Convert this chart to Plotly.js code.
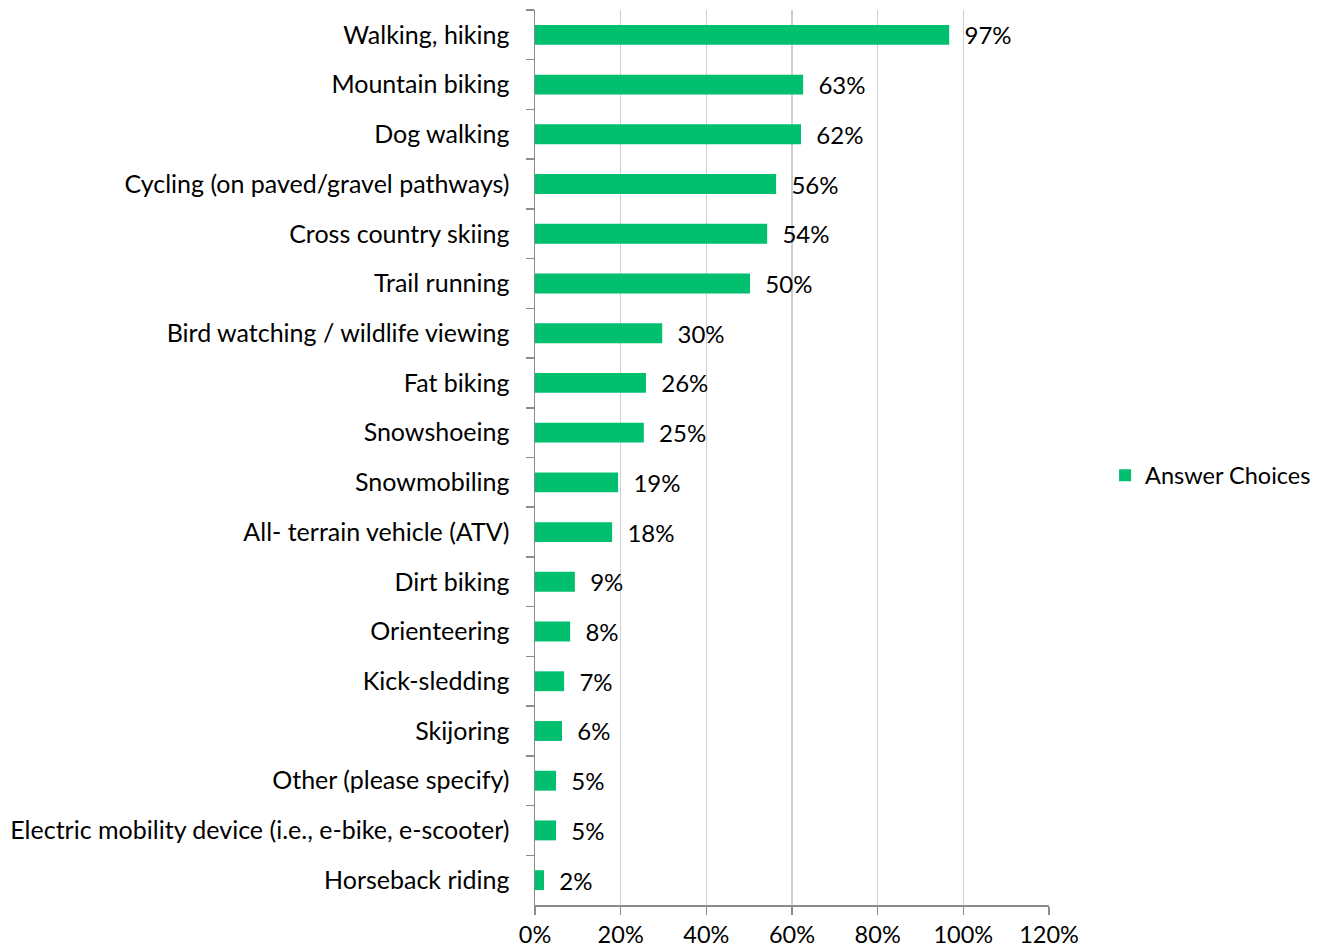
<!DOCTYPE html>
<html>
<head>
<meta charset="utf-8">
<script src="https://cdn.plot.ly/plotly-3.0.1.min.js"></script>
<style>html,body{margin:0;padding:0;background:#fff;}#chart{width:1329px;height:951px;}</style>
</head>
<body>
<div id="chart"></div>
<script>
const categories = [
  "Walking, hiking",
  "Mountain biking",
  "Dog walking",
  "Cycling (on paved/gravel pathways)",
  "Cross country skiing",
  "Trail running",
  "Bird watching / wildlife viewing",
  "Fat biking",
  "Snowshoeing",
  "Snowmobiling",
  "All- terrain vehicle (ATV)",
  "Dirt biking",
  "Orienteering",
  "Kick-sledding",
  "Skijoring",
  "Other (please specify)",
  "Electric mobility device (i.e., e-bike, e-scooter)",
  "Horseback riding"
];
const values = [0.967, 0.626, 0.621, 0.563, 0.542, 0.502, 0.297, 0.259, 0.254, 0.194, 0.180, 0.093, 0.082, 0.068, 0.063, 0.049, 0.049, 0.021];
const xTicks = [0, 0.2, 0.4, 0.6, 0.8, 1.0, 1.2];
const seriesName = "Answer Choices";

const font = "Lato, 'Noto Sans', sans-serif";

Plotly.newPlot("chart", [{
  type: "bar",
  orientation: "h",
  name: seriesName,
  y: categories,
  x: values,
  marker: {color: "#00BF6F"},
  texttemplate: "  %{x:.0%}",
  textposition: "outside",
  constraintext: "none",
  cliponaxis: false,
  textfont: {family: font, size: 24, color: "#000"},
  showlegend: true,
  hoverinfo: "x+y"
}], {
  width: 1329,
  height: 951,
  margin: {l: 535, r: 280, t: 10, b: 46, autoexpand: false},
  paper_bgcolor: "#fff",
  plot_bgcolor: "#fff",
  bargap: 0.6,
  font: {family: font, size: 24, color: "#000"},
  xaxis: {
    range: [0, 1.2],
    tickvals: xTicks,
    tickformat: ".0%",
    showgrid: true,
    gridcolor: "#cfcfcf",
    gridwidth: 1.5,
    zeroline: false,
    showline: true,
    linecolor: "#8c8c8c",
    linewidth: 1.5,
    ticks: "outside",
    ticklen: 8,
    tickcolor: "#8c8c8c",
    tickwidth: 1.5,
    tickfont: {family: font, size: 23.5, color: "#000"},
    automargin: false,
    fixedrange: true
  },
  yaxis: {
    type: "category",
    autorange: "reversed",
    showgrid: false,
    zeroline: false,
    showline: true,
    linecolor: "#8c8c8c",
    linewidth: 1.5,
    ticks: "outside",
    tickson: "boundaries",
    ticklen: 8,
    tickcolor: "#8c8c8c",
    tickwidth: 1.5,
    ticklabelstandoff: 19,
    tickfont: {family: font, size: 25, color: "#000"},
    automargin: false,
    fixedrange: true
  },
  showlegend: true,
  legend: {
    xref: "container", yref: "container",
    x: 0.8315, xanchor: "left",
    y: 0.5, yanchor: "middle",
    font: {family: font, size: 23.5, color: "#000"},
    itemwidth: 30
  }
}, {displayModeBar: false, staticPlot: true});
</script>
</body>
</html>
